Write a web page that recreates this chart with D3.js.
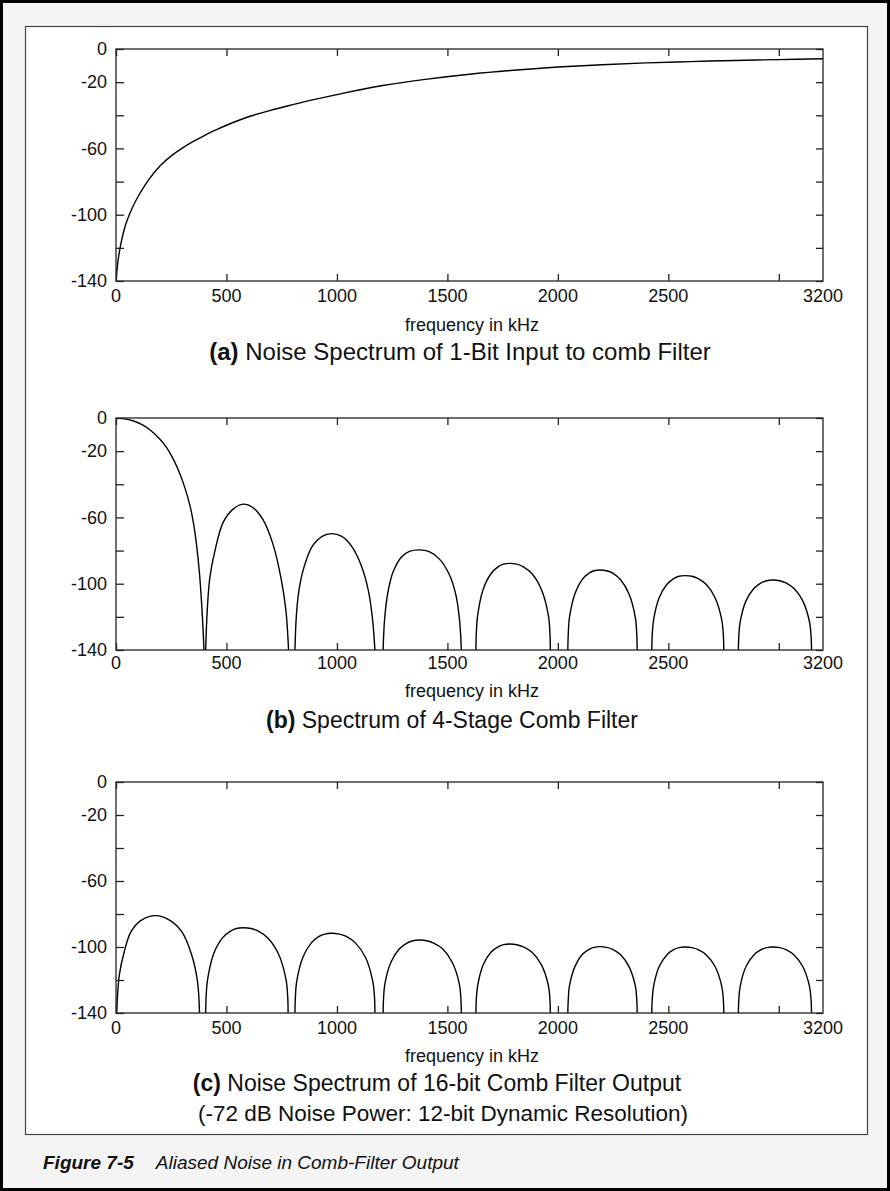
<!DOCTYPE html>
<html>
<head>
<meta charset="utf-8">
<script src="https://cdn.jsdelivr.net/npm/d3@7/dist/d3.min.js"></script>
<style>
  body { margin: 0; background: #fff; }
  svg { display: block; font-family: "Liberation Sans", Arial, Helvetica, sans-serif; }
</style>
</head>
<body>
<svg id="fig" width="890" height="1191"></svg>
<script>
// ---- data (kHz, dB) ----
const freqTicks = [0, 500, 1000, 1500, 2000, 2500, 3000];
const freqLabels = ["0", "500", "1000", "1500", "2000", "2500", ""];
const freqEndLabel = "3200";
const dbTicks = [0, -20, -40, -60, -80, -100, -120, -140];
const dbLabels = ["0", "-20", "", "-60", "", "-100", "", "-140"];

// (a) 1-bit input noise spectrum
const inputNoise = [
  [0, -140], [10, -127], [20, -119], [35, -110], [50, -103.5], [75, -95.5], [100, -89],
  [150, -78.5], [200, -70.5], [250, -64.5], [300, -59.8], [350, -55.8], [400, -52.2], [450, -49],
  [500, -46], [600, -40.9], [700, -37], [800, -33.6], [900, -30.4], [1000, -27.5], [1200, -22.2],
  [1400, -18.3], [1600, -15.2], [1800, -12.8], [2000, -10.9], [2200, -9.5], [2400, -8.4],
  [2600, -7.6], [2800, -6.9], [3000, -6.4], [3200, -5.9]
];

// (b) 4-stage comb filter, one array per lobe
const combLobes = [
  [[0, 0], [40, -0.5], [80, -1.8], [120, -4.2], [160, -7.8], [200, -13], [230, -18], [260, -25],
   [290, -34], [315, -43.5], [335, -53], [350, -63], [365, -77], [378, -94], [388, -113], [395, -130], [398, -140]],
  [[406, -140], [413, -116], [425, -96], [448, -80], [485, -63], [530, -55], [575, -52],
   [619, -54], [664, -61], [709, -75.5], [746, -96], [769, -116], [781, -140]],
  [[810, -140], [816, -120], [828, -104], [851, -90], [888, -77.5], [933, -71.4], [975, -69.8],
   [1022, -71.4], [1067, -77.5], [1112, -89.7], [1142, -104], [1160, -120], [1172, -140]],
  [[1209, -140], [1216, -121], [1231, -105], [1254, -93], [1291, -84], [1328, -80.5], [1373, -79.6],
   [1418, -80.6], [1463, -85], [1507, -94], [1537, -106], [1555, -122], [1563, -140]],
  [[1629, -140], [1631, -129.5], [1637, -119.1], [1662, -103.4], [1697, -94], [1729, -89.8], [1754, -88.2], [1781, -87.7],
   [1814, -88.2], [1844, -89.8], [1883, -94], [1925, -103.4], [1957, -119.1], [1964, -129.5], [1966, -140]],
  [[2045, -140], [2047, -130.3], [2052, -120.7], [2077, -106.2], [2110, -97.5], [2141, -93.6], [2164, -92.2], [2190, -91.7],
   [2220, -92.2], [2248, -93.6], [2283, -97.5], [2322, -106.2], [2351, -120.7], [2357, -130.3], [2359, -140]],
  [[2425, -140], [2427, -131], [2433, -122], [2458, -108.6], [2493, -100.5], [2524, -96.9], [2548, -95.5], [2575, -95.1],
   [2607, -95.5], [2635, -96.9], [2672, -100.5], [2712, -108.6], [2742, -122], [2749, -131], [2751, -140]],
  [[2817, -140], [2819, -131.6], [2825, -123.1], [2851, -110.5], [2887, -102.9], [2920, -99.5], [2945, -98.2], [2972, -97.8],
   [3004, -98.2], [3032, -99.5], [3069, -102.9], [3109, -110.5], [3139, -123.1], [3146, -131.6], [3148, -140]]
];

// (c) 16-bit comb filter output noise, one array per lobe
const outputLobes = [
  [[3, -140], [15, -117], [37, -103], [67, -91], [112, -84], [179, -81], [246, -84],
   [299, -91], [343, -105], [369, -121], [378, -140]],
  [[406, -140], [408, -129.7], [415, -119.3], [443, -103.8], [482, -94.5], [518, -90.4], [545, -88.8], [575, -88.3],
   [612, -88.8], [644, -90.4], [687, -94.5], [734, -103.8], [769, -119.3], [777, -129.7], [779, -140]],
  [[810, -140], [812, -130.3], [818, -120.7], [846, -106.2], [884, -97.5], [919, -93.6], [945, -92.2], [975, -91.7],
   [1011, -92.2], [1042, -93.6], [1083, -97.5], [1129, -106.2], [1162, -120.7], [1170, -130.3], [1172, -140]],
  [[1209, -140], [1211, -131.2], [1217, -122.3], [1245, -109.1], [1283, -101.1], [1317, -97.6], [1344, -96.2], [1373, -95.8],
   [1407, -96.2], [1438, -97.6], [1478, -101.1], [1521, -109.1], [1554, -122.3], [1561, -131.2], [1563, -140]],
  [[1629, -140], [1631, -131.6], [1637, -123.3], [1662, -110.7], [1697, -103.2], [1729, -99.9], [1754, -98.6], [1781, -98.2],
   [1814, -98.6], [1844, -99.9], [1883, -103.2], [1925, -110.7], [1957, -123.3], [1964, -131.6], [1966, -140]],
  [[2045, -140], [2047, -132], [2052, -123.9], [2077, -111.9], [2110, -104.6], [2141, -101.4], [2164, -100.2], [2190, -99.8],
   [2220, -100.2], [2248, -101.4], [2283, -104.6], [2322, -111.9], [2351, -123.9], [2357, -132], [2359, -140]],
  [[2425, -140], [2427, -132], [2433, -124], [2458, -112], [2493, -104.8], [2524, -101.6], [2548, -100.4], [2575, -100],
   [2607, -100.4], [2635, -101.6], [2672, -104.8], [2712, -112], [2742, -124], [2749, -132], [2751, -140]],
  [[2817, -140], [2819, -132], [2825, -124], [2851, -112], [2887, -104.8], [2920, -101.6], [2945, -100.4], [2972, -100],
   [3004, -100.4], [3032, -101.6], [3069, -104.8], [3109, -112], [3139, -124], [3146, -132], [3148, -140]]
];

const axisTitle = "frequency in kHz";
const captions = [
  [["(a)", " Noise Spectrum of 1-Bit Input to comb Filter"]],
  [["(b)", " Spectrum of 4-Stage Comb Filter"]],
  [["(c)", " Noise Spectrum of 16-bit Comb Filter Output"], ["", "(-72 dB Noise Power: 12-bit Dynamic Resolution)"]]
];
const figNumber = "Figure 7-5";
const figTitle = "Aliased Noise in Comb-Filter Output";

// ---- layout ----
const W = 890, H = 1191;
const plotLeft = 116, plotRight = 823;
const panels = [
  { top: 49, bottom: 281, tickY: 302, titleY: 331,
    caps: [{ x: 460, y: 360, size: 24 }], series: [inputNoise] },
  { top: 418, bottom: 650, tickY: 669, titleY: 697,
    caps: [{ x: 452, y: 728, size: 23 }], series: combLobes },
  { top: 782, bottom: 1013, tickY: 1034, titleY: 1062,
    caps: [{ x: 437, y: 1091, size: 23 }, { x: 443, y: 1121, size: 22.5 }], series: outputLobes }
];

const svg = d3.select("#fig");

// page frame
svg.append("rect").attr("x", 1.5).attr("y", 1.5).attr("width", W - 3).attr("height", H - 3)
  .attr("fill", "#f4f4f4").attr("stroke", "#000").attr("stroke-width", 3);
svg.append("rect").attr("x", 25.5).attr("y", 26.5).attr("width", 842).attr("height", 1108)
  .attr("fill", "#fff").attr("stroke", "#444").attr("stroke-width", 1.2);

const x = d3.scaleLinear().domain([0, 3200]).range([plotLeft, plotRight]);

panels.forEach((p, i) => {
  const y = d3.scaleLinear().domain([-140, 0]).range([p.bottom, p.top]);
  const g = svg.append("g");

  svg.append("clipPath").attr("id", "clip" + i)
    .append("rect")
    .attr("x", plotLeft).attr("y", p.top)
    .attr("width", plotRight - plotLeft).attr("height", p.bottom - p.top);

  // curves
  const line = d3.line().x(d => x(d[0])).y(d => y(d[1])).curve(d3.curveCatmullRom.alpha(0.5));
  g.append("g").attr("clip-path", `url(#clip${i})`)
    .selectAll("path")
    .data(p.series)
    .join("path")
    .attr("d", line)
    .attr("fill", "none")
    .attr("stroke", "#000")
    .attr("stroke-width", 1.4);

  // frame
  g.append("rect")
    .attr("x", plotLeft).attr("y", p.top)
    .attr("width", plotRight - plotLeft).attr("height", p.bottom - p.top)
    .attr("fill", "none").attr("stroke", "#222").attr("stroke-width", 1.3);

  // inward ticks on all four sides
  const xAxisB = d3.axisBottom(x).tickValues(freqTicks).tickSize(-7).tickFormat("");
  const xAxisT = d3.axisTop(x).tickValues(freqTicks).tickSize(-7).tickFormat("");
  const yAxisL = d3.axisLeft(y).tickValues(dbTicks).tickSize(-8).tickFormat("");
  const yAxisR = d3.axisRight(y).tickValues(dbTicks).tickSize(-7).tickFormat("");
  [[xAxisB, `translate(0,${p.bottom})`], [xAxisT, `translate(0,${p.top})`],
   [yAxisL, `translate(${plotLeft},0)`], [yAxisR, `translate(${plotRight},0)`]].forEach(([ax, tr]) => {
    const a = g.append("g").attr("transform", tr).call(ax);
    a.select(".domain").remove();
    a.selectAll("line").attr("stroke", "#222").attr("stroke-width", 1.3);
  });

  // tick labels
  g.selectAll("text.xl")
    .data(freqTicks.map((v, k) => [v, freqLabels[k]]).concat([[3200, freqEndLabel]]))
    .join("text")
    .attr("class", "xl")
    .attr("x", d => x(d[0]))
    .attr("y", p.tickY)
    .attr("text-anchor", "middle")
    .attr("font-size", 18)
    .attr("fill", "#111")
    .text(d => d[1]);

  g.selectAll("text.yl")
    .data(dbTicks.map((v, k) => [v, dbLabels[k]]))
    .join("text")
    .attr("class", "yl")
    .attr("x", 107)
    .attr("y", d => y(d[0]) + 6.3)
    .attr("text-anchor", "end")
    .attr("font-size", 18)
    .attr("fill", "#111")
    .text(d => d[1]);

  g.append("text")
    .attr("x", 472).attr("y", p.titleY)
    .attr("text-anchor", "middle")
    .attr("font-size", 18)
    .attr("fill", "#111")
    .text(axisTitle);

  captions[i].forEach((c, k) => {
    const cp = p.caps[k];
    const t = g.append("text")
      .attr("x", cp.x).attr("y", cp.y)
      .attr("text-anchor", "middle")
      .attr("font-size", cp.size)
      .attr("fill", "#111");
    if (c[0]) t.append("tspan").attr("font-weight", "bold").text(c[0]);
    t.append("tspan").text(c[1]);
  });
});

// figure caption
const fc = svg.append("text")
  .attr("x", 43).attr("y", 1169)
  .attr("font-size", 19)
  .attr("font-style", "italic")
  .attr("fill", "#111");
fc.append("tspan").attr("font-weight", "bold").text(figNumber);
fc.append("tspan").attr("dx", 22).text(figTitle);
</script>
</body>
</html>
